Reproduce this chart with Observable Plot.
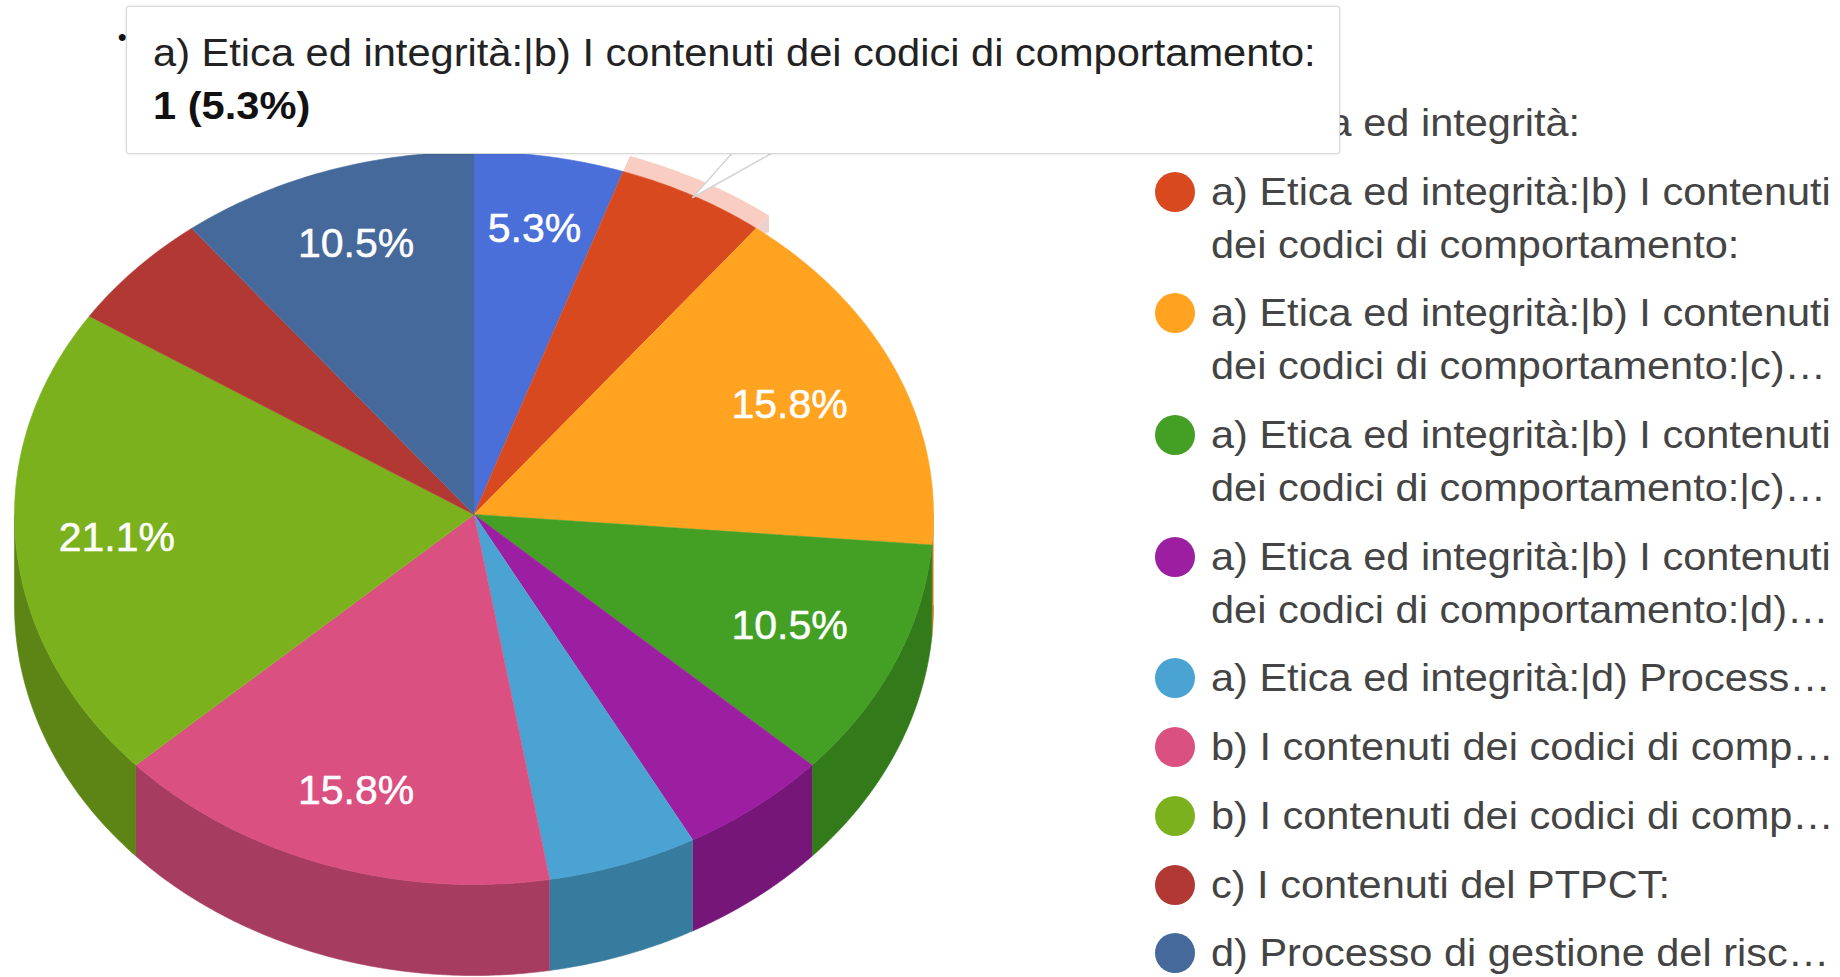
<!DOCTYPE html>
<html lang="it">
<head>
<meta charset="utf-8">
<title>Pie chart</title>
<script src="https://cdn.jsdelivr.net/npm/d3@7"></script>
<script src="https://cdn.jsdelivr.net/npm/@observablehq/plot@0.6"></script>
<style>
  html, body { margin: 0; padding: 0; background: #fff; overflow: hidden; }
  body { font-family: "Liberation Sans", Arial, sans-serif; width: 1840px; height: 977px; position: relative; }
  #chart { position: absolute; left: 0; top: 0; }
  #legend { position: absolute; left: 1155px; top: 96px; width: 680px; color: #444; font-size: 38.5px; line-height: 53px; }
  .row { position: relative; padding-left: 56px; margin-bottom: 15.7px; white-space: nowrap; }
  .row div { transform: scaleX(1.078); transform-origin: left center; }
  .swatch { position: absolute; left: 0; top: 7px; width: 40px; height: 40px; border-radius: 50%; }
  #bullet { position: absolute; left: 118px; top: 17px; font-size: 24px; font-weight: bold; color: #111; line-height: 40px; }
  #tooltip { position: absolute; left: 126px; top: 6px; width: 1214px; height: 148px; box-sizing: border-box;
    background: #fff; border: 1.5px solid #d8d8d8; border-radius: 3px; box-shadow: 0 0 3px rgba(0,0,0,.12);
    color: #222; font-size: 38px; line-height: 53px; padding: 20px 0 0 26px; white-space: nowrap; }
  #tooltip div { transform: scaleX(1.095); transform-origin: left center; }
  #tooltip b { color: #111; }
</style>
</head>
<body>
<div id="chart"></div>
<div id="bullet">•</div>
<div id="legend"></div>
<div id="tooltip"></div>
<script>
const legendLines = [
  ["a) Etica ed integrità:"],
  ["a) Etica ed integrità:|b) I contenuti", "dei codici di comportamento:"],
  ["a) Etica ed integrità:|b) I contenuti", "dei codici di comportamento:|c)…"],
  ["a) Etica ed integrità:|b) I contenuti", "dei codici di comportamento:|c)…"],
  ["a) Etica ed integrità:|b) I contenuti", "dei codici di comportamento:|d)…"],
  ["a) Etica ed integrità:|d) Process…"],
  ["b) I contenuti dei codici di comp…"],
  ["b) I contenuti dei codici di comp…"],
  ["c) I contenuti del PTPCT:"],
  ["d) Processo di gestione del risc…"]
];
const counts = [1, 1, 3, 2, 1, 1, 3, 4, 1, 2];
const pctLabels = ["5.3%", "", "15.8%", "10.5%", "", "", "15.8%", "21.1%", "", "10.5%"];
const labelRadii = [0.80, 0, 0.75, 0.75, 0, 0, 0.79, 0.78, 0, 0.79];
const topColors = ["#4b6fd8", "#d8491f", "#ffa321", "#43a024", "#9b1fa0", "#4aa3d2", "#da5080", "#7cb11e", "#b23833", "#44699a"];
const sideColors = ["#38539f", "#a23617", "#bf7a19", "#337a1b", "#751678", "#377b9f", "#a63d60", "#5d8516", "#862a26", "#334f74"];
const tooltipLines = ["a) Etica ed integrità:|b) I contenuti dei codici di comportamento:", "1 (5.3%)"];
const highlighted = 1;

const total = d3.sum(counts);
const cum = d3.cumsum(counts);
const slices = counts.map((c, i) => ({
  i,
  start: (cum[i] - c) / total * 2 * Math.PI,
  end: cum[i] / total * 2 * Math.PI,
  top: topColors[i],
  side: sideColors[i],
  label: pctLabels[i],
  labelR: labelRadii[i]
}));
const backSquash = 0.98;
const px = (r, a) => r * Math.sin(a);
const py = (r, a) => {
  const c = Math.cos(a);
  return -r * c * (c > 0 ? backSquash : 1);
};
const arc = (r, a0, a1, dy = 0) => {
  const n = Math.max(2, Math.ceil((a1 - a0) / 0.01));
  return d3.range(n + 1).map(k => {
    const a = a0 + (a1 - a0) * k / n;
    return {x: px(r, a), y: py(r, a) + dy};
  });
};
const depth = 0.246;

const faces = slices.flatMap(s =>
  [{x: 0, y: 0}, ...arc(1, s.start, s.end)].map(p => ({...p, id: s.i, fill: s.top})));

const sides = slices.flatMap(s => {
  const a0 = Math.max(s.start, Math.PI / 2), a1 = Math.min(s.end, 3 * Math.PI / 2);
  if (a1 <= a0) return [];
  return [...arc(1, a0, a1), ...arc(1, a0, a1, depth).reverse()].map(p => ({...p, id: s.i, fill: s.side}));
});

const hs = slices[highlighted];
const ringR = 1.045;
const ring = [...arc(ringR, hs.start, hs.end), ...arc(1, hs.start, hs.end).reverse()];
const ringEnd = [
  {x: px(ringR, hs.end), y: py(ringR, hs.end)},
  {x: px(ringR, hs.end), y: py(ringR, hs.end) + 0.045},
  {x: px(1, hs.end), y: py(1, hs.end) + 0.02},
  {x: px(1, hs.end), y: py(1, hs.end)}
];
const hMid = (hs.start + hs.end) / 2;
const tipX = px(1, hMid), tipY = py(0.994, hMid);
const pointer = [
  {x: tipX, y: tipY},
  {x: tipX + 0.0895, y: tipY - 0.125},
  {x: tipX + 0.18, y: tipY - 0.125},
  {x: tipX, y: tipY}
];
const labelled = slices.filter(s => s.label).map(s => {
  const a = (s.start + s.end) / 2;
  return {x: px(s.labelR, a), y: py(s.labelR, a), label: s.label};
});

const plot = Plot.plot({
  width: 1840,
  height: 977,
  margin: 0,
  style: {background: "transparent", fontFamily: '"Liberation Sans", Arial, sans-serif'},
  x: {domain: [-1, 1], range: [14, 933], axis: null},
  y: {domain: [-1, 1], range: [144, 884], axis: null},
  color: {type: "identity"},
  marks: [
    Plot.line(ringEnd, {x: "x", y: "y", fill: "#ecd2cc", stroke: "none", curve: "linear"}),
    Plot.line(ring, {x: "x", y: "y", fill: "#f9cdc2", stroke: "none", curve: "linear"}),
    Plot.line(sides, {x: "x", y: "y", z: "id", fill: "fill", stroke: "fill", strokeWidth: 0.6, curve: "linear"}),
    Plot.line(faces, {x: "x", y: "y", z: "id", fill: "fill", stroke: "fill", strokeWidth: 0.6, curve: "linear"}),
    Plot.text(labelled, {x: "x", y: "y", text: "label", fill: "white", stroke: "white", strokeWidth: 0.5, fontSize: 41, textAnchor: "middle"}),
    Plot.line(pointer, {x: "x", y: "y", fill: "white", stroke: "#d4d4d4", strokeWidth: 1.5, curve: "linear"})
  ]
});
document.getElementById("chart").append(plot);

const legend = document.getElementById("legend");
slices.forEach((s, i) => {
  const row = document.createElement("div");
  row.className = "row";
  const sw = document.createElement("span");
  sw.className = "swatch";
  sw.style.background = s.top;
  row.append(sw);
  legendLines[i].forEach(t => {
    const line = document.createElement("div");
    line.textContent = t;
    row.append(line);
  });
  legend.append(row);
});

const tip = document.getElementById("tooltip");
const l1 = document.createElement("div"); l1.textContent = tooltipLines[0];
const l2 = document.createElement("div"); const b = document.createElement("b"); b.textContent = tooltipLines[1]; l2.append(b);
tip.append(l1, l2);
</script>
</body>
</html>
